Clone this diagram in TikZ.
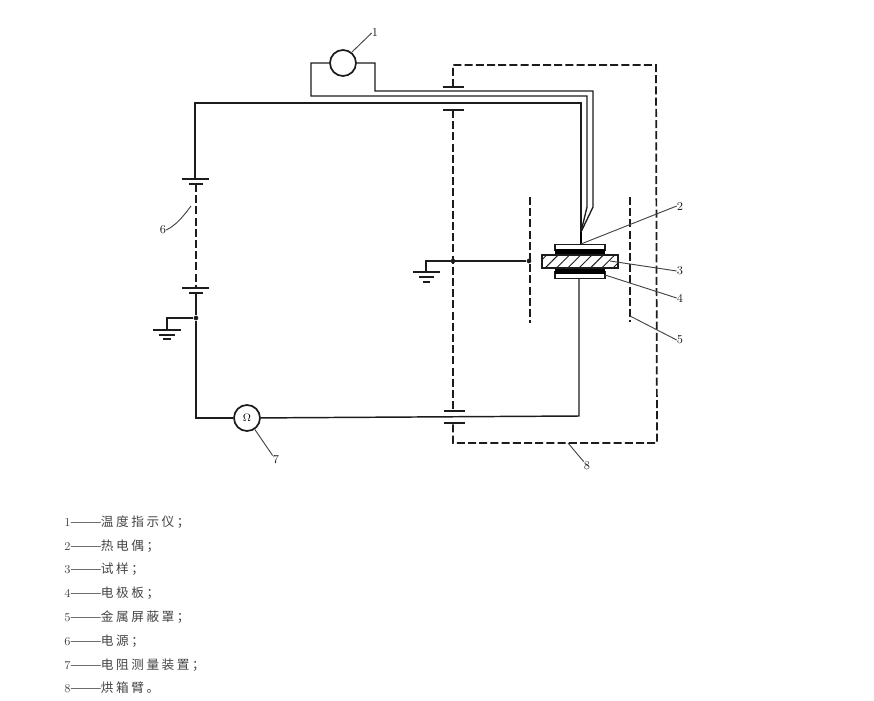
\documentclass[tikz,border=0pt]{standalone}
\usepackage{fontspec}
\newfontfamily\cjk[LetterSpace=20]{Noto Sans CJK SC}
\usepackage{xcolor}
\usetikzlibrary{patterns.meta}
\definecolor{ink_dark}{HTML}{1c1c1c}
\definecolor{ink_gray}{HTML}{444444}
\newcommand{\legcjk}{\cjk\fontsize{9.5}{11}\selectfont ———\kern-0.5pt }

\begin{document}
\begin{tikzpicture}[x=0.75pt, y=-0.75pt]
    % Styles
    \tikzstyle{wire} = [draw=ink_dark, line width=1.1pt]
    \tikzstyle{thinwire} = [draw=ink_dark, line width=1pt]
    \tikzstyle{dashwire} = [draw=ink_dark, line width=1.15pt, dash pattern=on 6pt off 2.4pt]
    \tikzstyle{plate} = [draw=ink_dark, line width=1.1pt]
    \tikzstyle{leader} = [draw=ink_gray, line width=0.7pt]
    \tikzstyle{meter} = [circle, draw=ink_dark, fill=white, line width=1.3pt, minimum size=19.5pt, inner sep=0pt]
    \tikzstyle{dot} = [circle, fill=ink_dark, minimum size=3.5pt, inner sep=0pt]
    \tikzstyle{numlabel} = [text=ink_dark, font=\small, inner sep=0pt]
    \tikzstyle{legend} = [text=ink_gray, font=\small, anchor=west, inner sep=0pt]
    \tikzstyle{electrode} = [rectangle, draw=ink_dark, fill=white, line width=0.9pt, minimum width=37.5pt, minimum height=5pt, inner sep=0pt]
    \tikzstyle{foil} = [rectangle, fill=black, minimum width=38pt, minimum height=5pt, inner sep=0pt]
    \useasboundingbox (0,0) rectangle (874,700);

    % Nodes: instruments
    \node[meter] (TM) at (343,63) {};
    \node[meter] (RM) at (247,418) {\footnotesize$\Omega$};

    % Nodes: specimen stack
    \node[electrode] (EU) at (580,247.5) {};
    \node[electrode] (EL) at (580,275) {};
    \node[foil] (FU) at (580,252.5) {};
    \node[foil] (FL) at (580,270.5) {};
    \node[rectangle, draw=ink_dark, line width=0.9pt, minimum width=57pt, minimum height=9.75pt, inner sep=0pt,
        pattern={Lines[angle=45, distance=6pt, line width=0.7pt]}, pattern color=ink_dark] (SP) at (580,261.5) {};

    % Nodes: junctions
    \node[dot] (J1) at (196,318) {};
    \node[dot] (J2) at (453,261) {};
    \node[dot] (J3) at (529,261) {};

    % Coordinates: main circuit
    \coordinate (C1) at (195,103);
    \coordinate (C2) at (581,103);
    \coordinate (C3) at (196,418);
    \coordinate (C4) at (579,416);
    \coordinate (BA) at (195,179);
    \coordinate (BB) at (196,184);
    \coordinate (BC) at (196,288);
    \coordinate (BD) at (196,293);
    \coordinate (TIP) at (581,244);
    \coordinate (TOP) at (581,232);

    % Main circuit
    \draw[wire] (TIP) -- (C2) -- (C1) -- (BA);
    \draw[wire] (BD) -- (J1) -- (C3) -- (RM);
    \draw[wire] (RM) -- (C4) -- (EL.south -| C4);
    \draw[dashwire] (BB) -- (BC);
    \draw[plate] (182,179) -- (209,179);
    \draw[plate] (189,184) -- (203,184);
    \draw[plate] (182,288) -- (209,288);
    \draw[plate] (189,293) -- (203,293);

    % Thermocouple leads
    \coordinate (L1) at (311,63);
    \coordinate (L2) at (311,96);
    \coordinate (L3) at (587,96);
    \coordinate (L4) at (587,207);
    \coordinate (R1) at (375,63);
    \coordinate (R2) at (375,91);
    \coordinate (R3) at (593,91);
    \coordinate (R4) at (593,207);
    \draw[thinwire] (TM) -- (L1) -- (L2) -- (L3) -- (L4) -- (TOP);
    \draw[thinwire] (TM) -- (R1) -- (R2) -- (R3) -- (R4) -- (TOP);
    \draw[draw=black, line width=2.2pt] (TOP) -- (TIP);

    % Oven wall and its lead-through plates
    \coordinate (W1) at (453,87);
    \coordinate (W2) at (453,65);
    \coordinate (W3) at (656,65);
    \coordinate (W4) at (657,443);
    \coordinate (W5) at (453,443);
    \coordinate (W6) at (453,423);
    \coordinate (W7) at (453,411);
    \coordinate (W8) at (453,110);
    \draw[dashwire, line width=1.3pt] (W1) -- (W2) -- (W3) -- (W4) -- (W5) -- (W6);
    \draw[dashwire] (W8) -- (W7);
    \draw[plate] (443,87) -- (464,87);
    \draw[plate] (443,110) -- (464,110);
    \draw[plate] (444,411) -- (465,411);
    \draw[plate] (444,423) -- (465,423);

    % Metal screen
    \draw[dashwire] (530,197) -- (530,323);
    \draw[dashwire] (630,197) -- (630,322);

    % Earth connections
    \coordinate (G1) at (167,318);
    \coordinate (G2) at (167,330);
    \coordinate (G3) at (426,261);
    \coordinate (G4) at (426,272);
    \draw[wire] (J1) -- (G1) -- (G2);
    \draw[wire] (J3) -- (G3) -- (G4);
    \draw[plate] (153,330) -- (181,330);
    \draw[plate] (159,335) -- (175,335);
    \draw[plate] (163,339) -- (171,339);
    \draw[plate] (413,272) -- (440,272);
    \draw[plate] (419,277) -- (434,277);
    \draw[plate] (423,282) -- (430,282);

    % Number labels
    \node[numlabel] (N1) at (375,33) {1};
    \node[numlabel] (N2) at (680,206) {2};
    \node[numlabel] (N3) at (680,271) {3};
    \node[numlabel] (N4) at (680,298) {4};
    \node[numlabel] (N5) at (680,340) {5};
    \node[numlabel] (N6) at (163,230) {6};
    \node[numlabel] (N7) at (276,460) {7};
    \node[numlabel] (N8) at (587,466) {8};

    % Leader lines
    \draw[leader] (352,52) -- (N1.west);
    \draw[leader] (TIP) -- (N2.west);
    \draw[leader] (610,261) -- (N3.west);
    \draw[leader] (605,275) -- (N4.west);
    \draw[leader] (630,316) -- (N5.west);
    \draw[leader] (191,206) .. controls (182,218) and (176,225) .. (N6.east);
    \draw[leader] (RM) -- (N7.north west);
    \draw[leader] (568,443) -- (N8.north west);

    % Legend
    \node[legend] (T1) at (64,522) {1{\legcjk 温度指示仪；}};
    \node[legend] (T2) at (64,546) {2{\legcjk 热电偶；}};
    \node[legend] (T3) at (64,569) {3{\legcjk 试样；}};
    \node[legend] (T4) at (64,593) {4{\legcjk 电极板；}};
    \node[legend] (T5) at (64,617) {5{\legcjk 金属屏蔽罩；}};
    \node[legend] (T6) at (64,641) {6{\legcjk 电源；}};
    \node[legend] (T7) at (64,665) {7{\legcjk 电阻测量装置；}};
    \node[legend] (T8) at (64,688) {8{\legcjk 烘箱臂。}};
\end{tikzpicture}
\end{document}
